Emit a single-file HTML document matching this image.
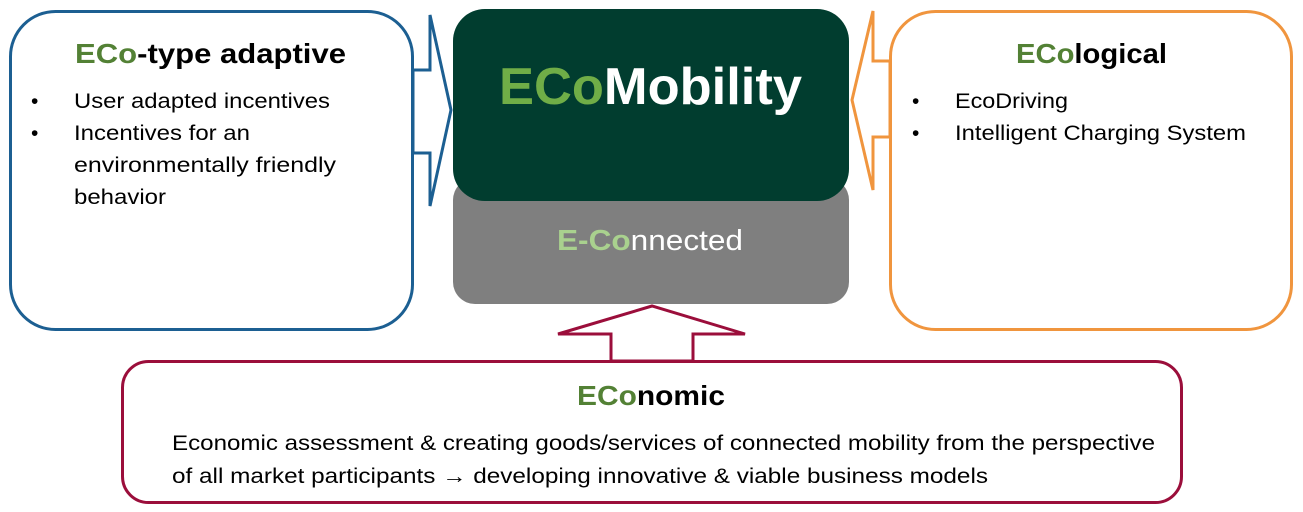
<!DOCTYPE html>
<html><head><meta charset="utf-8"><style>
html,body{margin:0;padding:0;background:#fff;}
svg{display:block;font-family:"Liberation Sans",sans-serif;}
</style></head><body>
<svg width="1303" height="512" viewBox="0 0 1303 512" xmlns="http://www.w3.org/2000/svg">
<!-- left box -->
<rect x="10.5" y="11.5" width="402" height="318" rx="45" fill="#fff" stroke="#1c5f92" stroke-width="3"/>
<!-- blue arrow -->
<polygon points="413,70 430,70 430,15 451,110 430,206 430,153 413,153" fill="#fff" stroke="#1c5f92" stroke-width="3" stroke-linejoin="miter"/>
<!-- right box -->
<rect x="890.5" y="11.5" width="401" height="318" rx="45" fill="#fff" stroke="#f0953e" stroke-width="3"/>
<!-- orange arrow -->
<polygon points="890,61 873,61 873,11 852,100 873,190 873,137 890,137" fill="#fff" stroke="#f0953e" stroke-width="3"/>
<!-- gray box -->
<rect x="453" y="178" width="396" height="126" rx="22" fill="#7f7f7f"/>
<!-- green box -->
<rect x="453" y="9" width="396" height="192" rx="32" fill="#013d2f"/>
<!-- bottom box -->
<rect x="122.5" y="361.5" width="1059" height="141" rx="26" fill="#fff" stroke="#9b0e3b" stroke-width="3"/>
<!-- up arrow -->
<polygon points="611,361 611,334 558,334 652,306 745,334 693,334 693,361" fill="#fff" stroke="#9b0e3b" stroke-width="3"/>

<text x="75" y="63" font-size="28" font-weight="bold" textLength="271" lengthAdjust="spacingAndGlyphs"><tspan fill="#538135">ECo</tspan><tspan fill="#000">-type adaptive</tspan></text>
<g font-size="21" fill="#000">
<text x="31" y="108">•</text><text x="74" y="108" textLength="256" lengthAdjust="spacingAndGlyphs">User adapted incentives</text>
<text x="31" y="140">•</text><text x="74" y="140" textLength="176" lengthAdjust="spacingAndGlyphs">Incentives for an</text>
<text x="74" y="172" textLength="262" lengthAdjust="spacingAndGlyphs">environmentally friendly</text>
<text x="74" y="204" textLength="92" lengthAdjust="spacingAndGlyphs">behavior</text>
</g>
<text x="1016" y="63" font-size="28" font-weight="bold" textLength="151" lengthAdjust="spacingAndGlyphs"><tspan fill="#538135">ECo</tspan><tspan fill="#000">logical</tspan></text>
<g font-size="21" fill="#000">
<text x="912" y="108">•</text><text x="955" y="108" textLength="113" lengthAdjust="spacingAndGlyphs">EcoDriving</text>
<text x="912" y="140">•</text><text x="955" y="140" textLength="291" lengthAdjust="spacingAndGlyphs">Intelligent Charging System</text>
</g>
<text x="499" y="104" font-size="52" font-weight="bold" textLength="303" lengthAdjust="spacingAndGlyphs"><tspan fill="#70ad47">ECo</tspan><tspan fill="#fff">Mobility</tspan></text>
<text x="557" y="250" font-size="29" textLength="186" lengthAdjust="spacingAndGlyphs"><tspan fill="#a9d18e" font-weight="bold">E-Co</tspan><tspan fill="#fff">nnected</tspan></text>
<text x="577" y="405" font-size="28" font-weight="bold" textLength="148" lengthAdjust="spacingAndGlyphs"><tspan fill="#538135">ECo</tspan><tspan fill="#000">nomic</tspan></text>
<g font-size="21" fill="#000">
<text x="172" y="450" textLength="983" lengthAdjust="spacingAndGlyphs">Economic assessment &amp; creating goods/services  of connected mobility from the perspective</text>
<text x="172" y="483" textLength="816" lengthAdjust="spacingAndGlyphs">of all market participants → developing  innovative &amp; viable business  models</text>
</g>
</svg>
</body></html>
